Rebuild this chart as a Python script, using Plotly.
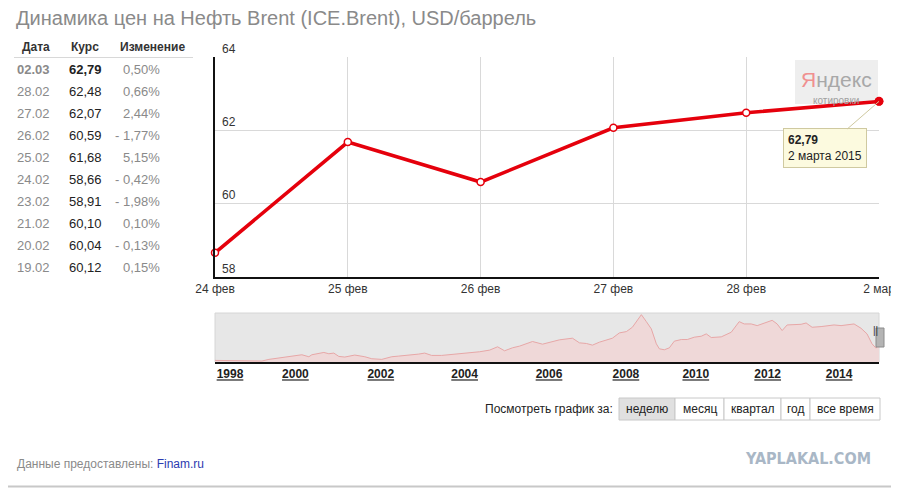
import plotly.graph_objects as go

W, H = 899, 488
PAGE_MARGIN = 8  # the browser puts the figure 8 px in from the top-left corner
FONT = "Arial, Liberation Sans, sans-serif"

# Table on the left: last ten trading days
table_dates = ["02.03", "28.02", "27.02", "26.02", "25.02", "24.02", "23.02", "21.02", "20.02", "19.02"]
table_rates = ["62,79", "62,48", "62,07", "60,59", "61,68", "58,66", "58,91", "60,10", "60,04", "60,12"]
table_changes = ["0,50%", "0,66%", "2,44%", "- 1,77%", "5,15%", "- 0,42%", "- 1,98%", "0,10%", "- 0,13%", "0,15%"]

# Main chart: one week
week_labels = ["24 фев", "25 фев", "26 фев", "27 фев", "28 фев", "2 мар"]
week_values = [58.66, 61.68, 60.59, 62.07, 62.48, 62.79]

# Navigator (whole history), x = step along the strip
nav_step = [0, 7, 27, 47, 54, 64, 77, 87, 94, 97, 109, 114, 119, 124, 130, 140, 150, 157, 167, 177,
            184, 194, 204, 210, 217, 227, 235, 245, 255, 265, 275, 283, 290, 298, 305, 312, 318, 328,
            335, 345, 358, 365, 372, 378, 385, 392, 398, 405, 412, 418, 425, 427, 432, 437, 442, 445,
            450, 455, 460, 467, 473, 480, 487, 492, 497, 507, 517, 522, 525, 530, 537, 543, 550, 558,
            563, 568, 573, 580, 587, 592, 598, 607, 613, 620, 627, 633, 640, 647, 653, 658, 662, 665]
nav_price = [12.0, 12.0, 10.2, 10.2, 14.9, 18.7, 22.5, 28.2, 22.5, 28.2, 34.8, 31.1, 33.0, 23.4, 21.6,
             27.3, 22.5, 16.8, 14.9, 22.5, 24.4, 26.3, 30.1, 33.0, 26.3, 26.3, 28.2, 30.1, 33.0, 36.8,
             41.5, 51.0, 39.6, 48.2, 52.9, 59.6, 66.2, 58.6, 64.3, 71.0, 75.7, 62.4, 60.5, 55.8, 64.3,
             71.0, 75.7, 90.9, 94.7, 107.1, 135.5, 143.2, 123.2, 102.3, 59.6, 45.3, 42.5, 48.0, 67.2,
             71.9, 71.9, 78.6, 81.4, 88.1, 77.6, 79.5, 92.8, 111.8, 123.2, 116.6, 116.6, 111.8, 119.4,
             127.0, 116.6, 97.6, 113.7, 113.7, 115.6, 119.4, 107.1, 109.0, 111.8, 113.7, 111.8, 113.7,
             116.6, 104.2, 88.1, 59.6, 47.2, 57.0]
year_step = [15, 80.5, 166, 250, 334.5, 411.5, 481.5, 553.5, 625]
year_labels = ["1998", "2000", "2002", "2004", "2006", "2008", "2010", "2012", "2014"]

buttons = ["неделю", "месяц", "квартал", "год", "все время"]
button_edges = [619, 675, 724, 781, 810, 880]


def px(x):
    return (x - PAGE_MARGIN) / W


def py(y):
    return 1 - (y - PAGE_MARGIN) / H


RED = "#e5000c"

fig = go.Figure()

fig.add_trace(go.Scatter(
    x=nav_step, y=nav_price, mode="lines", fill="tozeroy",
    line=dict(color="#e7a7a7", width=1), fillcolor="#efd8d8",
    xaxis="x2", yaxis="y2", hoverinfo="skip",
))

fig.add_trace(go.Scatter(
    x=list(range(len(week_values))), y=week_values, mode="lines+markers",
    line=dict(color=RED, width=3.5),
    marker=dict(size=7, color="white", line=dict(color=RED, width=1.5)),
    cliponaxis=False, hoverinfo="skip",
))
fig.add_trace(go.Scatter(
    x=[len(week_values) - 1], y=[week_values[-1]], mode="markers",
    marker=dict(size=9, color=RED), cliponaxis=False, hoverinfo="skip",
))

shapes = []
annotations = []

# title
annotations.append(dict(
    x=px(14), y=py(18), xref="paper", yref="paper", xanchor="left", yanchor="middle",
    text="Динамика цен на Нефть Brent (ICE.Brent), USD/баррель", showarrow=False,
    font=dict(family=FONT, size=20, color="#8a8a8a"),
))

# table
for txt, xc in [("Дата", 36), ("Курс", 85), ("Изменение", 152)]:
    annotations.append(dict(
        x=px(xc), y=py(47), xref="paper", yref="paper", xanchor="center", yanchor="middle",
        text="<b>" + txt + "</b>", showarrow=False, font=dict(family=FONT, size=12, color="#333"),
    ))
shapes.append(dict(type="line", xref="paper", yref="paper", x0=px(14), x1=px(193),
                   y0=py(57.5), y1=py(57.5), line=dict(color="#d8d8d8", width=1)))
for i, (d, r, c) in enumerate(zip(table_dates, table_rates, table_changes)):
    yy = py(70 + i * 21.9)
    bold = i == 0
    annotations.append(dict(
        x=px(15), y=yy, xref="paper", yref="paper", xanchor="left", yanchor="middle",
        text=("<b>%s</b>" % d) if bold else d, showarrow=False,
        font=dict(family=FONT, size=13, color="#8a8a8a"),
    ))
    annotations.append(dict(
        x=px(104), y=yy, xref="paper", yref="paper", xanchor="right", yanchor="middle",
        text=("<b>%s</b>" % r) if bold else r, showarrow=False,
        font=dict(family=FONT, size=13, color="#222"),
    ))
    annotations.append(dict(
        x=px(162), y=yy, xref="paper", yref="paper", xanchor="right", yanchor="middle",
        text=c, showarrow=False, font=dict(family=FONT, size=13, color="#8a8a8a"),
    ))

# Yandex badge
shapes.append(dict(type="rect", xref="paper", yref="paper", x0=px(795), x1=px(878),
                   y0=py(104), y1=py(60), fillcolor="rgba(236,236,236,0.9)",
                   line=dict(width=0), layer="below"))
annotations.append(dict(
    x=px(836), y=py(80), xref="paper", yref="paper", xanchor="center", yanchor="middle",
    text="<span style='color:#f09090'>Я</span>ндекс", showarrow=False,
    font=dict(family=FONT, size=21, color="#a8a8a8"),
))
annotations.append(dict(
    x=px(836), y=py(100), xref="paper", yref="paper", xanchor="center", yanchor="middle",
    text="котировки", showarrow=False, font=dict(family=FONT, size=10, color="#a0a0a0"),
))

# tooltip
annotations.append(dict(
    x=len(week_values) - 1, y=week_values[-1], xref="x", yref="y",
    ax=-54, ay=47, showarrow=True, arrowhead=0, arrowwidth=1, arrowcolor="#cfc9a0",
    text="<b>62,79</b><br>2 марта 2015", align="left",
    bgcolor="#fcfadf", bordercolor="#cfc9a0", borderwidth=1, borderpad=4,
    font=dict(family=FONT, size=12, color="#222"),
))

# navigator background and handle
shapes.append(dict(type="rect", xref="x2 domain", yref="y2 domain", x0=0, x1=1, y0=0, y1=1,
                   fillcolor="#e7e7e7", line=dict(color="#d6d6d6", width=1), layer="below"))
shapes.append(dict(type="rect", xref="paper", yref="paper", x0=px(876), x1=px(884),
                   y0=py(347), y1=py(328), fillcolor="#b4b4b4", line=dict(color="#8c8c8c", width=1)))
annotations.append(dict(
    x=px(880), y=py(337.5), xref="paper", yref="paper", text="||", showarrow=False,
    font=dict(family=FONT, size=10, color="#333"),
))

# period buttons
annotations.append(dict(
    x=px(615), y=py(409), xref="paper", yref="paper", xanchor="right", yanchor="middle",
    text="Посмотреть график за:", showarrow=False, font=dict(family=FONT, size=12, color="#222"),
))
for i, b in enumerate(buttons):
    x0, x1 = button_edges[i], button_edges[i + 1]
    shapes.append(dict(type="rect", xref="paper", yref="paper", x0=px(x0), x1=px(x1),
                       y0=py(420), y1=py(398),
                       fillcolor="#e0e0e0" if i == 0 else "white",
                       line=dict(color="#c8c8c8", width=1)))
    annotations.append(dict(
        x=px((x0 + x1) / 2), y=py(409), xref="paper", yref="paper", xanchor="center",
        yanchor="middle", text=b, showarrow=False, font=dict(family=FONT, size=12, color="#222"),
    ))

# footer
annotations.append(dict(
    x=px(15), y=py(464), xref="paper", yref="paper", xanchor="left", yanchor="middle",
    text="Данные предоставлены: <span style='color:#2b3bb0'>Finam.ru</span>", showarrow=False,
    font=dict(family=FONT, size=12, color="#8a8a8a"),
))
annotations.append(dict(
    x=px(873), y=py(458), xref="paper", yref="paper", xanchor="right", yanchor="middle",
    text="<b>YAPLAKAL.COM</b>", showarrow=False,
    font=dict(family="DejaVu Sans Condensed, " + FONT, size=16, color="#a9b7c6"),
))
shapes.append(dict(type="line", xref="paper", yref="paper", x0=0, x1=1, y0=py(486.5), y1=py(486.5),
                   line=dict(color="#c8c8c8", width=2)))

fig.update_layout(
    width=W, height=H, margin=dict(l=0, r=0, t=0, b=0, autoexpand=False),
    paper_bgcolor="white", plot_bgcolor="rgba(0,0,0,0)",
    showlegend=False, shapes=shapes, annotations=annotations,
    font=dict(family=FONT, size=12, color="#333"),
    xaxis=dict(
        domain=[px(215), px(879)], range=[0, len(week_values) - 1],
        tickvals=list(range(len(week_labels))), ticktext=week_labels,
        showgrid=True, gridcolor="#d9d9d9", gridwidth=1,
        showline=True, linecolor="#111", linewidth=1.5, zeroline=False,
        automargin=False, ticklabeloverflow="allow",
        tickfont=dict(family=FONT, size=12, color="#333"), anchor="y",
    ),
    yaxis=dict(
        domain=[py(277), py(57)], range=[58, 64], dtick=2,
        showgrid=True, gridcolor="#d9d9d9", gridwidth=1,
        showline=True, linecolor="#111", linewidth=1.5, zeroline=False,
        ticklabelposition="inside top", ticklabelstandoff=6,
        automargin=False, ticklabeloverflow="allow",
        tickfont=dict(family=FONT, size=12, color="#333"), anchor="x",
    ),
    xaxis2=dict(
        domain=[px(215), px(879)], range=[0, 665],
        tickvals=year_step, ticktext=["<b>%s</b>" % y for y in year_labels],
        showgrid=False, showline=True, linecolor="#111", linewidth=2, zeroline=False,
        automargin=False,
        tickfont=dict(family=FONT, size=12, color="#222", lineposition="under"), anchor="y2",
    ),
    yaxis2=dict(
        domain=[py(362), py(313)], range=[7.4, 148], visible=False, anchor="x2",
        automargin=False,
    ),
)

fig.write_html("out.html")
